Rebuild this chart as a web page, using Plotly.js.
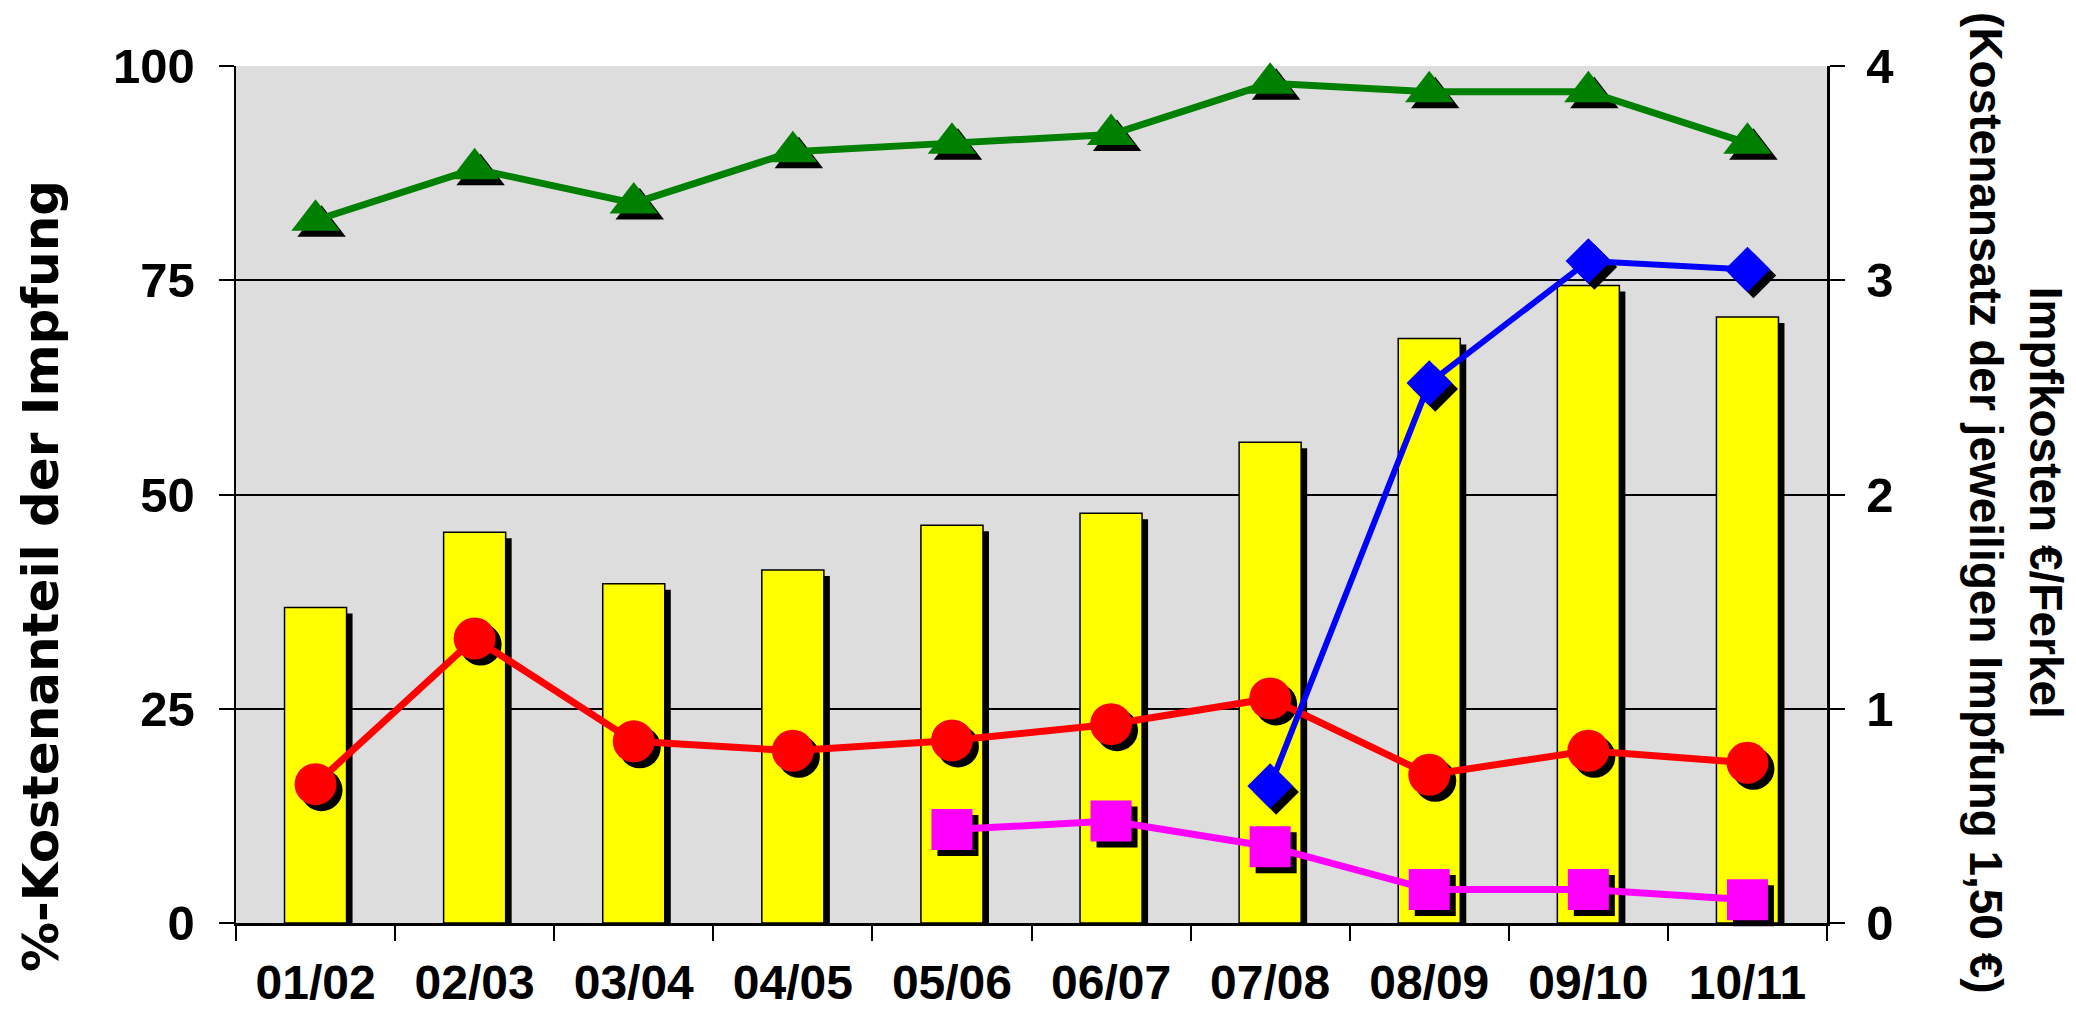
<!DOCTYPE html>
<html>
<head>
<meta charset="utf-8">
<script src="https://cdn.plot.ly/plotly-3.0.1.min.js"></script>
<style>html,body{margin:0;padding:0;background:#fff;}#chart{width:2076px;height:1013px;}</style>
</head>
<body>
<div id="chart"></div>
<script>
// ---- data ----
var seasons = ['01/02','02/03','03/04','04/05','05/06','06/07','07/08','08/09','09/10','10/11'];
var kostenanteilBars = [36.8, 45.6, 39.6, 41.2, 46.4, 47.8, 56.1, 68.2, 74.4, 70.7];
var greenSeries = [82, 88, 84, 90, 91, 92, 98, 97, 97, 91];
var redSeries = [16.2, 33.2, 21.2, 20.1, 21.3, 23.2, 26.2, 17.3, 20.1, 18.7];
var magentaSeries = [null, null, null, null, 10.9, 11.9, 8.9, 3.9, 3.9, 2.7];
var blueEuro = [null, null, null, null, null, null, 0.64, 2.52, 3.09, 3.05];
var leftTicks = [0, 25, 50, 75, 100];
var rightTicks = [0, 1, 2, 3, 4];

// ---- layout geometry ----
var W = 2076, H = 1013;
var M = {l: 236, r: 249, t: 66, b: 90};
var plotW = W - M.l - M.r, plotH = H - M.t - M.b;
var nCat = seasons.length;
var shadowPx = {x: 6, y: 6};
var sx = shadowPx.x * nCat / plotW;           // category units
var syP = shadowPx.y * 100 / plotH;           // % units
var syE = shadowPx.y * 4 / plotH;             // euro units

var FONT = 'Liberation Sans, Arial, Helvetica, sans-serif';
var TITLE_FONT = 'DejaVu Sans, Liberation Sans, Arial, sans-serif';

var catRange = [-0.5, nCat - 0.5];
var catShift = [-0.5 - sx, nCat - 0.5 - sx];

function hiddenCat(range, overlay) {
  var a = {type: 'category', categoryorder: 'array', categoryarray: seasons,
           range: range, visible: false, fixedrange: true};
  if (overlay) a.overlaying = 'x';
  return a;
}
function hiddenY(range, overlay) {
  var a = {range: range, visible: false, fixedrange: true};
  if (overlay) a.overlaying = 'y';
  return a;
}

var MS = {tri: 42, circ: 42, sq: 41, dia: 35};

var traces = [];
// 1: bar shadows (xy)
traces.push({type: 'bar', x: seasons, y: kostenanteilBars, xaxis: 'x', yaxis: 'y',
  width: 0.39, marker: {color: '#000000', line: {width: 0}}, hoverinfo: 'skip'});
// 2: bars (x2y2)
traces.push({type: 'bar', x: seasons, y: kostenanteilBars, xaxis: 'x2', yaxis: 'y2',
  name: '%-Kostenanteil', width: 0.39,
  marker: {color: '#FFFF00', line: {color: '#000000', width: 1.5}}});
// 3: marker shadows for % series (x3y3)
var shadowSeries = [
  {y: greenSeries, sym: 'triangle-up', size: MS.tri},
  {y: redSeries, sym: 'circle', size: MS.circ},
  {y: magentaSeries, sym: 'square', size: MS.sq}
];
shadowSeries.forEach(function (s) {
  traces.push({type: 'scatter', mode: 'markers', x: seasons, y: s.y, xaxis: 'x3', yaxis: 'y3',
    cliponaxis: false, hoverinfo: 'skip',
    marker: {symbol: s.sym, size: s.size, color: '#000000', line: {width: 0}}});
});
// 4: marker shadow for euro series (x3y4)
traces.push({type: 'scatter', mode: 'markers', x: seasons, y: blueEuro, xaxis: 'x3', yaxis: 'y4',
  cliponaxis: false, hoverinfo: 'skip',
  marker: {symbol: 'diamond', size: MS.dia, color: '#000000', line: {width: 0}}});
// 5: % lines (x4y5)
var pctSeries = [
  {y: greenSeries, c: '#008000', sym: 'triangle-up', size: MS.tri, lw: 7},
  {y: redSeries, c: '#FF0000', sym: 'circle', size: MS.circ, lw: 7},
  {y: magentaSeries, c: '#FF00FF', sym: 'square', size: MS.sq, lw: 7}
];
pctSeries.forEach(function (s) {
  traces.push({type: 'scatter', mode: 'lines+markers', x: seasons, y: s.y, xaxis: 'x4', yaxis: 'y5',
    cliponaxis: false, line: {color: s.c, width: s.lw},
    marker: {symbol: s.sym, size: s.size, color: s.c, line: {width: 0}}});
});
// 6: euro line (x4y6)
traces.push({type: 'scatter', mode: 'lines+markers', x: seasons, y: blueEuro, xaxis: 'x4', yaxis: 'y6',
  cliponaxis: false, line: {color: '#0000FF', width: 6},
  marker: {symbol: 'diamond', size: MS.dia, color: '#0000FF', line: {width: 0}}});

var tickFont = {family: FONT, size: 49, color: '#000000', weight: 'bold'};
var xTickFont = {family: FONT, size: 48, color: '#000000', weight: 'bold'};

var layout = {
  width: W, height: H,
  margin: M,
  paper_bgcolor: '#FFFFFF',
  plot_bgcolor: '#DDDDDD',
  showlegend: false,
  barmode: 'overlay',
  xaxis: hiddenCat(catShift, false),
  yaxis: hiddenY([0 + syP, 100 + syP], false),
  xaxis2: {type: 'category', categoryorder: 'array', categoryarray: seasons, overlaying: 'x',
    range: catRange, fixedrange: true, tickson: 'boundaries', ticks: 'outside', ticklen: 15,
    tickwidth: 2, tickcolor: '#000000', showline: true, linecolor: '#000000', linewidth: 2.5,
    showgrid: false, tickfont: xTickFont, ticklabelstandoff: 16},
  yaxis2: {overlaying: 'y', side: 'left', range: [0, 100], tickvals: leftTicks, ticktext: leftTicks.map(String),
    fixedrange: true, ticks: 'outside', ticklen: 15, tickwidth: 2, tickcolor: '#000000',
    showline: true, linecolor: '#000000', linewidth: 2.5, showgrid: true, gridcolor: '#000000',
    gridwidth: 2, zeroline: false, tickfont: tickFont, ticklabelstandoff: 14},
  xaxis3: hiddenCat(catShift, true),
  yaxis3: hiddenY([0 + syP, 100 + syP], true),
  yaxis4: hiddenY([0 + syE, 4 + syE], true),
  xaxis4: hiddenCat(catRange, true),
  yaxis5: hiddenY([0, 100], true),
  yaxis6: {overlaying: 'y', side: 'right', range: [0, 4], tickvals: rightTicks, ticktext: rightTicks.map(String),
    fixedrange: true, ticks: 'outside', ticklen: 15, tickwidth: 2, tickcolor: '#000000',
    showline: true, linecolor: '#000000', linewidth: 2.5, showgrid: false, zeroline: false,
    tickfont: tickFont, ticklabelstandoff: 12},
  annotations: [
    {xref: 'paper', yref: 'paper', x: (41 - M.l) / plotW, y: 1 - (576 - M.t) / plotH,
     xanchor: 'center', yanchor: 'middle',
     textangle: -90, showarrow: false, text: '%-Kostenanteil der Impfung',
     font: {family: TITLE_FONT, size: 50, color: '#000000', weight: 'bold'}},
    {xref: 'paper', yref: 'paper', x: (2016 - M.l) / plotW, y: 0.49, xanchor: 'center', yanchor: 'middle',
     textangle: 90, showarrow: false,
     text: 'Impfkosten €/Ferkel<br>(Kostenansatz der jeweiligen Impfung 1,50 €)',
     font: {family: FONT, size: 46, color: '#000000', weight: 'bold'}}
  ]
};

Plotly.newPlot('chart', traces, layout, {staticPlot: true, displayModeBar: false});
</script>
</body>
</html>
